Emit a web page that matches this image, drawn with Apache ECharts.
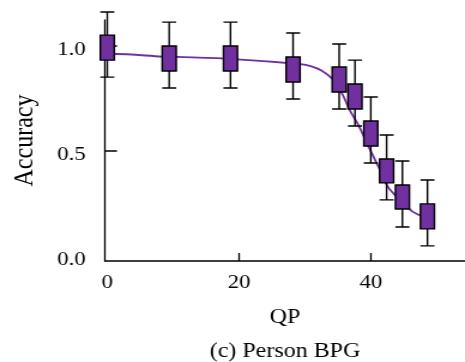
<!DOCTYPE html>
<html>
<head>
<meta charset="utf-8">
<script src="https://cdn.jsdelivr.net/npm/echarts@6/dist/echarts.min.js"></script>
<style>
  html, body { margin: 0; padding: 0; background: #fff; overflow: hidden; }
  /* the source figure is stretched sideways, so draw narrow and stretch */
  #chart { width: 388px; height: 362px; transform: scaleX(1.19845); transform-origin: 0 0; }
</style>
</head>
<body>
<div id="chart"></div>
<script>
// box plot values
const qp = [0, 9.4, 18.7, 28.2, 35.2, 37.6, 40.0, 42.4, 44.8, 48.6];
const whiskerLow = [0.852, 0.8, 0.8, 0.748, 0.7, 0.619, 0.443, 0.267, 0.138, 0.048];
const q1 = [0.933, 0.881, 0.881, 0.829, 0.781, 0.7, 0.524, 0.348, 0.224, 0.129];
const q3 = [1.052, 1.0, 1.0, 0.948, 0.9, 0.819, 0.643, 0.462, 0.338, 0.248];
const whiskerHigh = [1.162, 1.114, 1.114, 1.062, 1.01, 0.933, 0.757, 0.576, 0.452, 0.362];

// fitted curve
const curveQP = [0, 1.2, 8.3, 10.6, 19.1, 29.3, 31.0, 32.5, 34.1, 35.6, 36.8, 38.1, 39.9, 41.4, 42.6, 44.4, 46.4, 48.6];
const curveAcc = [0.962, 0.962, 0.95, 0.948, 0.938, 0.914, 0.903, 0.883, 0.845, 0.776, 0.695, 0.624, 0.505, 0.41, 0.329, 0.267, 0.21, 0.18];

const xTicks = [20, 40];
const xLabels = [0, 20, 40];
const yTicks = [0.5, 1.0];
const yLabels = [0, 0.5, 1.0];

const FONT = 'Liberation Serif';
const PURPLE = '#7030a0';

const chart = echarts.init(document.getElementById('chart'));

const boxData = qp.map((x, i) => [x, whiskerLow[i], q1[i], q3[i], q3[i], whiskerHigh[i]]);
const curveData = curveQP.map((x, i) => [x, curveAcc[i]]);

const option = {
  animation: false,
  backgroundColor: '#fff',
  grid: { left: 87.6, right: 0, top: 20, bottom: 101 },
  xAxis: {
    type: 'value',
    min: -0.35,
    max: 54.3,
    name: 'QP',
    nameLocation: 'middle',
    nameGap: 47,
    nameTextStyle: { fontFamily: FONT, fontSize: 20, color: '#000' },
    axisLine: { onZero: false, lineStyle: { color: '#000', width: 1.5 } },
    axisTick: {
      inside: true,
      length: 8,
      customValues: xTicks,
      lineStyle: { color: '#000', width: 1.3 },
    },
    axisLabel: {
      customValues: xLabels,
      margin: 13,
      fontFamily: FONT,
      fontSize: 19,
      color: '#000',
    },
    splitLine: { show: false },
  },
  yAxis: {
    type: 'value',
    min: -0.024,
    max: 1.124,
    name: 'Accuracy',
    nameLocation: 'middle',
    nameGap: 55,
    nameRotate: 90,
    nameTextStyle: { fontFamily: FONT, fontSize: 24, color: '#000' },
    axisLine: { onZero: false, lineStyle: { color: '#000', width: 1.3 } },
    axisTick: {
      inside: true,
      length: 10,
      customValues: yTicks,
      lineStyle: { color: '#000', width: 1.5 },
    },
    axisLabel: {
      customValues: yLabels,
      margin: 16,
      verticalAlign: 'top',
      lineHeight: 8,
      fontFamily: FONT,
      fontSize: 19,
      color: '#000',
      formatter: (v) => v.toFixed(1),
    },
    splitLine: { show: false },
  },
  graphic: [
    {
      type: 'text',
      x: 237.8,
      y: 352,
      style: {
        text: '(c) Person BPG',
        fontFamily: FONT,
        fontSize: 20,
        fill: '#000',
        textAlign: 'center',
        textVerticalAlign: 'middle',
      },
    },
  ],
  series: [
    {
      type: 'line',
      data: curveData,
      smooth: 0.3,
      showSymbol: false,
      clip: false,
      z: 1,
      lineStyle: { color: PURPLE, width: 1.8 },
    },
    {
      type: 'boxplot',
      layout: 'horizontal',
      data: boxData,
      encode: { x: 0, y: [1, 2, 3, 4, 5] },
      boxWidth: [11.7, 11.7],
      z: 2,
      itemStyle: { color: PURPLE, borderColor: '#000', borderWidth: 1.4 },
    },
  ],
};

chart.setOption(option);
</script>
</body>
</html>
